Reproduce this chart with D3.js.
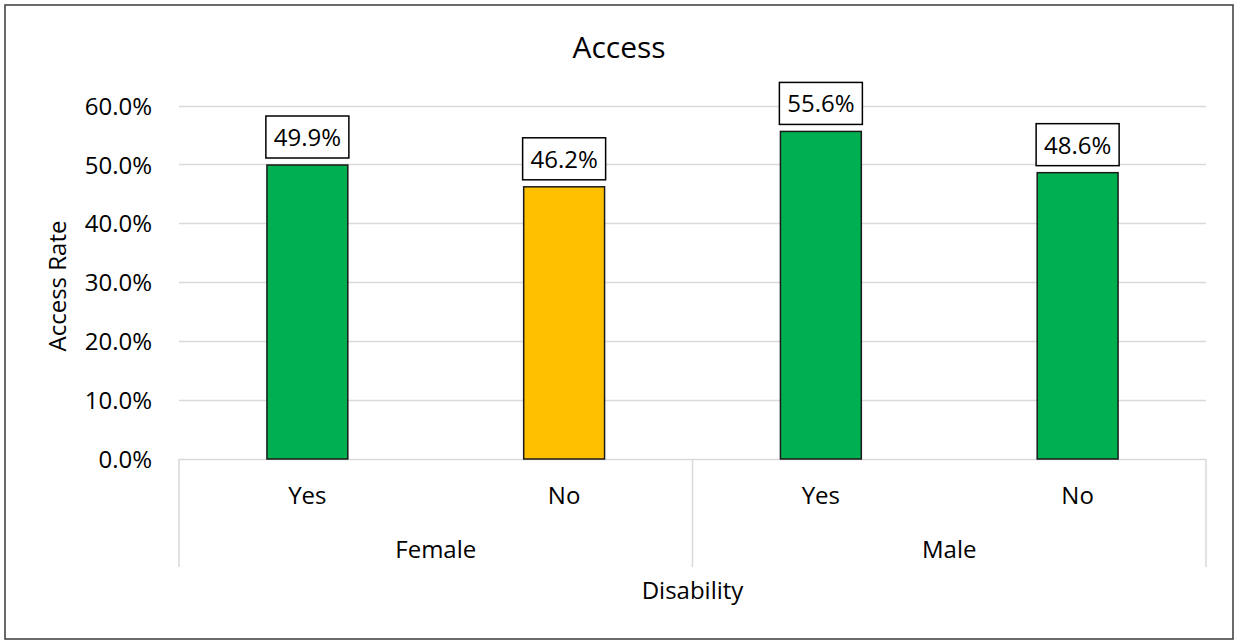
<!DOCTYPE html>
<html>
<head>
<meta charset="utf-8">
<script src="https://cdn.jsdelivr.net/npm/d3@7"></script>
<style>
  html, body { margin: 0; padding: 0; background: #fff; }
  svg { display: block; font-family: "Open Sans", "Noto Sans", sans-serif; }
</style>
</head>
<body>
<svg id="chart" width="1235" height="640"></svg>
<script>
// ---- data ----
const groups = ["Female", "Female", "Male", "Male"];
const disability = ["Yes", "No", "Yes", "No"];
const values = [49.9, 46.2, 55.6, 48.6];
const barColors = ["#00B050", "#FFC000", "#00B050", "#00B050"];
const groupNames = ["Female", "Male"];
const yTicks = [0, 10, 20, 30, 40, 50, 60];
const yTickLabels = ["0.0%", "10.0%", "20.0%", "30.0%", "40.0%", "50.0%", "60.0%"];
const title = "Access";
const yTitle = "Access Rate";
const xTitle = "Disability";

// ---- layout ----
const svg = d3.select("#chart");
const plot = { left: 179, right: 1206, top: 105.5, bottom: 459 };
const keys = values.map((d, i) => i);

const x = d3.scaleBand().domain(keys).range([plot.left, plot.right])
  .paddingInner(0.685).paddingOuter(0.3425);
const xCat = d3.scaleBand().domain(keys).range([plot.left, plot.right]);
const xGroup = d3.scaleBand().domain(groupNames).range([plot.left, plot.right]);
const y = d3.scaleLinear().domain([0, 60]).range([plot.bottom, plot.top]);

// outer border
svg.append("rect").attr("x", 5).attr("y", 5).attr("width", 1228).attr("height", 634)
  .attr("fill", "#fff").attr("stroke", "#3a3a3a").attr("stroke-width", 1.5);

// title
svg.append("text").attr("x", 619).attr("y", 58).attr("text-anchor", "middle")
  .attr("font-size", 30).attr("fill", "#000").text(title);

// gridlines
svg.append("g").selectAll("line").data(yTicks).join("line")
  .attr("x1", plot.left).attr("x2", plot.right)
  .attr("y1", d => Math.round(y(d)) + 0.5).attr("y2", d => Math.round(y(d)) + 0.5)
  .attr("stroke", "#D9D9D9").attr("stroke-width", 1.5);

// y axis labels via d3 axis
const yAxis = d3.axisLeft(y).tickValues(yTicks).tickFormat((d, i) => yTickLabels[i]).tickSize(0).tickPadding(0);
const yg = svg.append("g").attr("transform", `translate(152,0)`).call(yAxis);
yg.select(".domain").remove();
yg.selectAll("text").attr("font-size", 24).attr("fill", "#000")
  .attr("font-family", "'Open Sans', sans-serif").attr("dy", "0.36em");

// y title
svg.append("text").attr("transform", `translate(66,286) rotate(-90)`)
  .attr("text-anchor", "middle").attr("font-size", 24).attr("fill", "#000").text(yTitle);

// bars
svg.append("g").selectAll("rect").data(keys).join("rect")
  .attr("x", i => x(i)).attr("width", x.bandwidth())
  .attr("y", i => y(values[i])).attr("height", i => y(0) - y(values[i]))
  .attr("fill", i => barColors[i]).attr("stroke", "#1a1a1a").attr("stroke-width", 1.5);

// data label boxes
const lbl = svg.append("g").selectAll("g").data(keys).join("g");
lbl.append("rect")
  .attr("x", i => x(i) + x.bandwidth() / 2 - 41.5).attr("width", 83)
  .attr("y", i => y(values[i]) - 49).attr("height", 42)
  .attr("fill", "#fff").attr("stroke", "#000").attr("stroke-width", 1.5);
lbl.append("text")
  .attr("x", i => x(i) + x.bandwidth() / 2)
  .attr("y", i => y(values[i]) - 19)
  .attr("text-anchor", "middle").attr("font-size", 24).attr("fill", "#000")
  .text(i => values[i].toFixed(1) + "%");

// category separators
const seps = [plot.left, ...groupNames.slice(1).map(g => xGroup(g)), plot.right];
svg.append("g").selectAll("line").data(seps).join("line")
  .attr("x1", d => d).attr("x2", d => d).attr("y1", plot.bottom).attr("y2", 567)
  .attr("stroke", "#D9D9D9").attr("stroke-width", 1.5);

// inner category labels
svg.append("g").selectAll("text").data(keys).join("text")
  .attr("x", i => xCat(i) + xCat.bandwidth() / 2).attr("y", 504)
  .attr("text-anchor", "middle").attr("font-size", 24).attr("fill", "#000")
  .text(i => disability[i]);

// group labels
svg.append("g").selectAll("text").data(groupNames).join("text")
  .attr("x", g => xGroup(g) + xGroup.bandwidth() / 2).attr("y", 558)
  .attr("text-anchor", "middle").attr("font-size", 24).attr("fill", "#000")
  .text(g => g);

// x title
svg.append("text").attr("x", (plot.left + plot.right) / 2).attr("y", 599)
  .attr("text-anchor", "middle").attr("font-size", 24).attr("fill", "#000").text(xTitle);
</script>
</body>
</html>
